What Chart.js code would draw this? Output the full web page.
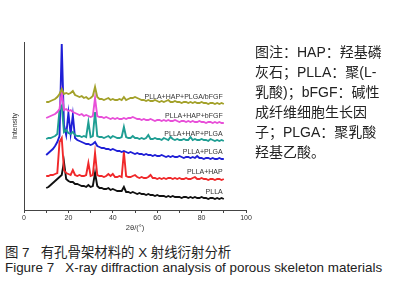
<!DOCTYPE html>
<html>
<head>
<meta charset="utf-8">
<script src="https://cdn.jsdelivr.net/npm/chart.js@4.4.0/dist/chart.umd.min.js"></script>
<style>
  body { margin: 0; background: #fff; width: 403px; height: 300px; position: relative; overflow: hidden; }
  #box { position: absolute; left: 0; top: 0; width: 260px; height: 240px; }
  .note { position: absolute; left: 255px; top: 42px; font: 14px/20px "Liberation Sans", "Noto Sans CJK SC", sans-serif; color: #222; white-space: pre; }
  .cap { position: absolute; left: 5px; font: 13.4px "Liberation Sans", "Noto Sans CJK SC", sans-serif; color: #222; white-space: pre; }
</style>
</head>
<body>
<div id="box"><canvas id="xrdChart" width="260" height="240"></canvas></div>
<div class="note">图注：HAP：羟基磷
灰石；PLLA：聚(L-
乳酸)；bFGF：碱性
成纤维细胞生长因
子；PLGA：聚乳酸
羟基乙酸。</div>
<div class="cap" style="top:241px">图 7   有孔骨架材料的 X 射线衍射分析</div>
<div class="cap" style="top:260px">Figure 7   X-ray diffraction analysis of porous skeleton materials</div>

<script>
// 2θ grid (degrees)
const twoTheta = [10, 11, 12, 13, 14, 15, 16, 17, 18, 19, 20, 21, 22, 23, 24, 25, 26, 27, 28, 29,
  30, 31, 32, 33, 34, 35, 36, 37, 38, 39, 40, 41, 42, 43, 44, 45, 46, 47, 48, 49,
  50, 51, 52, 53, 54, 55, 56, 57, 58, 59, 60, 61, 62, 63, 64, 65, 66, 67, 68, 69,
  70, 71, 72, 73, 74, 75, 76, 77, 78, 79, 80, 81, 82, 83, 84, 85, 86, 87, 88, 89, 90];

// intensity (arbitrary units, curves already stacked with offsets)
const pllaHapPlgaBfgf = [108, 108, 109, 110, 111, 113, 116, 121, 116, 117, 116, 117, 119, 115, 114, 113, 114, 112, 113, 111,
  112, 114, 123, 113, 111, 111, 110, 111, 112, 110, 111, 110, 110, 111, 110, 113, 110, 111, 112, 112,
  113, 112, 111, 110, 110, 109, 110, 109, 109, 110, 109, 108, 109, 108, 109, 110, 108, 108, 109, 108,
  108, 107, 108, 108, 107, 108, 107, 108, 107, 107, 108, 107, 107, 106, 107, 107, 106, 107, 106, 107, 106];
const pllaHapBfgf = [92, 93, 94, 95, 96, 98, 101, 118, 100, 101, 99, 100, 98, 97, 96, 95, 96, 94, 95, 94,
  93, 94, 112, 94, 93, 93, 92, 93, 92, 91, 92, 91, 92, 91, 91, 92, 91, 92, 92, 93,
  92, 91, 91, 90, 91, 90, 90, 91, 90, 89, 90, 90, 89, 90, 89, 90, 89, 89, 90, 89,
  88, 89, 89, 88, 89, 88, 89, 88, 88, 89, 88, 88, 87, 88, 88, 87, 88, 87, 88, 87, 87];
const pllaHapPlga = [71, 72, 72, 73, 74, 76, 100, 104, 78, 80, 77, 76, 78, 75, 74, 74, 73, 74, 73, 88,
  73, 74, 98, 74, 73, 73, 72, 73, 74, 72, 74, 73, 72, 72, 73, 83, 73, 72, 72, 74,
  72, 72, 71, 72, 71, 72, 75, 71, 71, 72, 71, 71, 70, 72, 71, 70, 73, 71, 70, 71,
  70, 70, 71, 70, 70, 73, 70, 71, 70, 70, 71, 70, 70, 69, 71, 70, 69, 70, 69, 70, 69];
const pllaPlga = [55, 57, 59, 61, 64, 68, 74, 166, 85, 75, 97, 76, 95, 72, 70, 69, 68, 67, 66, 66,
  65, 66, 68, 64, 63, 62, 62, 61, 61, 60, 61, 60, 59, 59, 58, 59, 58, 57, 58, 57,
  56, 57, 56, 56, 55, 56, 55, 55, 54, 55, 54, 54, 55, 54, 53, 54, 53, 54, 53, 53,
  54, 53, 52, 53, 53, 52, 53, 52, 54, 52, 52, 51, 52, 52, 51, 52, 51, 51, 52, 51, 51];
const pllaHap = [34, 34, 35, 35, 36, 37, 68, 72, 40, 37, 36, 35, 40, 35, 34, 35, 34, 34, 35, 47,
  34, 35, 57, 35, 34, 34, 33, 34, 36, 34, 36, 33, 33, 34, 33, 58, 34, 33, 33, 34,
  35, 33, 32, 33, 32, 32, 33, 35, 32, 32, 31, 32, 31, 32, 31, 32, 32, 31, 32, 31,
  32, 31, 31, 32, 31, 31, 32, 33, 31, 31, 32, 31, 31, 30, 31, 31, 30, 31, 31, 30, 31];
const plla = [22, 23, 25, 27, 29, 31, 33, 35, 48, 31, 29, 28, 28, 26, 26, 25, 24, 24, 23, 25,
  23, 24, 37, 24, 22, 22, 21, 21, 22, 20, 21, 20, 19, 19, 19, 23, 18, 18, 17, 18,
  17, 16, 17, 16, 16, 15, 16, 15, 15, 14, 15, 14, 14, 14, 13, 14, 13, 14, 13, 13,
  13, 12, 13, 13, 12, 13, 12, 13, 12, 12, 13, 12, 12, 11, 12, 12, 11, 12, 11, 12, 11];

const seriesNames = ['PLLA+HAP+PLGA/bFGF', 'PLLA+HAP+bFGF', 'PLLA+HAP+PLGA', 'PLLA+PLGA', 'PLLA+HAP', 'PLLA'];
const seriesValues = [pllaHapPlgaBfgf, pllaHapBfgf, pllaHapPlga, pllaPlga, pllaHap, plla];
const seriesColors = ['#a3a12a', '#e84fd8', '#1f9e93', '#1f1fd6', '#f0282a', '#111111'];
const xTicks = [0, 20, 40, 60, 80, 100];

const toPoints = vals => twoTheta.map((t, i) => ({ x: t, y: vals[i] }));

// curve names written just above the right end of each trace
const curveLabels = {
    id: 'curveLabels',
    afterDatasetsDraw(chart) {
        const ctx = chart.ctx;
        const xs = chart.scales.x, ys = chart.scales.y;
        ctx.save();
        ctx.font = '7px "Liberation Sans", Arial, sans-serif';
        ctx.fillStyle = '#333';
        ctx.textAlign = 'right';
        ctx.textBaseline = 'middle';
        chart.data.datasets.forEach(ds => {
            const last = ds.data[ds.data.length - 1];
            ctx.fillText(ds.label, xs.getPixelForValue(89.5), ys.getPixelForValue(last.y + 7));
        });
        ctx.restore();
    }
};

new Chart(document.getElementById('xrdChart'), {
    type: 'line',
    data: {
        datasets: seriesNames.map((name, i) => ({
            label: name,
            data: toPoints(seriesValues[i]),
            borderColor: seriesColors[i],
            borderWidth: 1.9,
            pointRadius: 0,
            tension: 0,
            fill: false
        }))
    },
    options: {
        responsive: false,
        animation: false,
        layout: { padding: { top: 42, right: 14, left: 0, bottom: 0 } },
        plugins: { legend: { display: false }, tooltip: { enabled: false } },
        scales: {
            x: {
                type: 'linear',
                min: 0,
                max: 100,
                afterFit: s => { s.height = 30; },
                afterBuildTicks: s => {
                    s.ticks = [0, 10, 20, 30, 40, 50, 60, 70, 80, 90, 100].map(v => ({ value: v }));
                },
                ticks: {
                    autoSkip: false,
                    maxRotation: 0,
                    padding: 1,
                    color: '#333',
                    font: { size: 7, family: '"Liberation Sans", Arial, sans-serif' },
                    callback: v => xTicks.includes(v) ? String(v) : ''
                },
                grid: { display: true, drawOnChartArea: false, tickLength: 3, color: '#444' },
                border: { color: '#444', width: 1 },
                title: {
                    display: true,
                    text: '2θ/(°)',
                    color: '#333',
                    font: { size: 7.5, family: '"Liberation Sans", Arial, sans-serif' },
                    padding: { top: 0, bottom: 8 }
                }
            },
            y: {
                min: 0,
                max: 168,
                afterFit: s => { s.width = 24; },
                ticks: { display: false },
                grid: { display: false },
                border: { color: '#444', width: 1 },
                title: {
                    display: true,
                    text: 'Intensity',
                    color: '#333',
                    font: { size: 7, family: '"Liberation Sans", Arial, sans-serif' },
                    padding: { top: 11, bottom: 0 }
                }
            }
        }
    },
    plugins: [curveLabels]
});
</script>
</body>
</html>
